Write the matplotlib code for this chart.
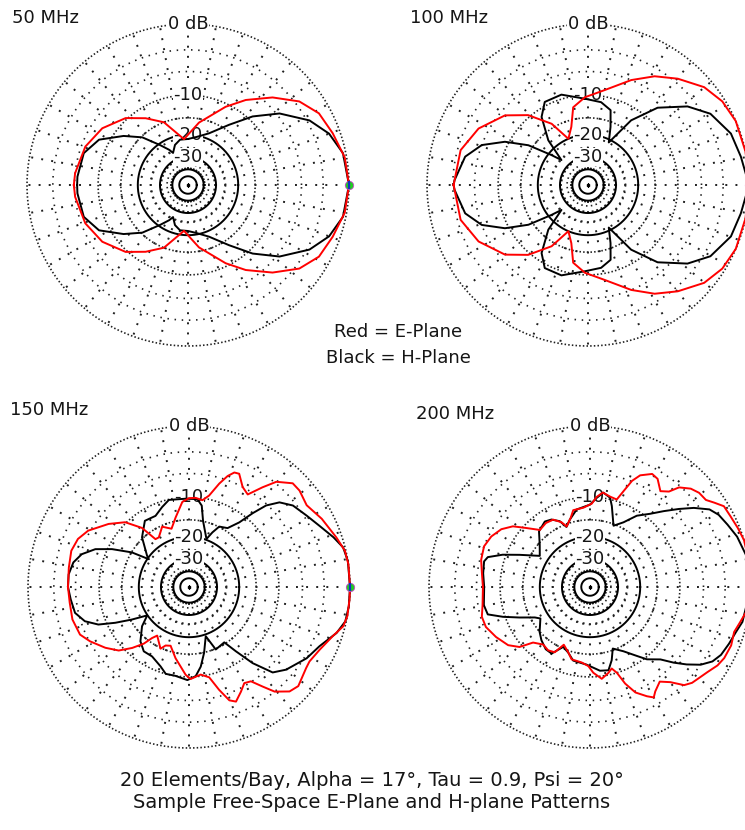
import numpy as np
import matplotlib
matplotlib.use("Agg")
import matplotlib.pyplot as plt

plt.rcParams['font.family'] = ['DejaVu Sans']

W, H = 745, 830

# ---- pattern data: azimuth angle (deg, 0 = forward, CCW positive) and relative gain (dB)
# 50 MHz
ang50_e = [-180, -174, -159.5, -146.5, -133, -122.4, -111, -95, -80, -64.3, -55.8, -46, -36.9, -28.7, -19.7, -10,
           0, 10, 19.7, 28.7, 36.9, 46, 55.8, 64.3, 80, 95, 111, 122.4, 133, 146.5, 159.5, 174, 180]
db50_e = [-5.9, -6.0, -6.6, -7.7, -9.7, -12.2, -15.0, -21.5, -16.0, -10.6, -7.7, -4.8, -2.5, -1.3, -0.8, -0.2,
          0.0, -0.2, -0.8, -1.3, -2.5, -4.8, -7.7, -10.6, -16.0, -21.5, -15.0, -12.2, -9.7, -7.7, -6.6, -6.0, -5.9]
ang50_h = [-180, -175.7, -163, -153, -142.7, -133.8, -125, -118, -115, -108, -100, -90, -80, -67.9, -55.7, -46.7,
           -38, -28, -20, -11.6, 0, 11.6, 20, 28, 38, 46.7, 55.7, 67.9, 80, 90, 100, 108, 115, 118, 125, 133.8,
           142.7, 153, 163, 175.7, 180]
db50_h = [-6.4, -6.4, -6.7, -8.2, -11.8, -15.3, -20.5, -24.0, -26.0, -23.0, -21.5, -21.5, -20.5, -18.2, -13.6,
          -9.2, -5.6, -2.7, -1.2, -0.3, 0.0, -0.3, -1.2, -2.7, -5.6, -9.2, -13.6, -18.2, -20.5, -21.5, -21.5,
          -23.0, -26.0, -24.0, -20.5, -15.3, -11.8, -8.2, -6.7, -6.4, -6.4]

# 100 MHz
ang100_e = [-180, -164.7, -152.7, -140, -130.6, -120.7, -113, -106, -100.8, -92, -80, -67.6, -58.5, -49.8, -40.1,
            -31.9, -23.4, -12, 0, 12, 23.4, 31.9, 40.1, 49.8, 58.5, 67.6, 80, 92, 100.8, 106, 113, 120.7, 130.6,
            140, 152.7, 164.7, 180]
db100_e = [-3.1, -3.4, -4.6, -6.8, -9.6, -14.0, -20.0, -16.8, -12.2, -10.4, -8.8, -6.0, -4.0, -2.5, -1.0,
           -0.3, 0.0, 0.0, 0.0, 0.0, 0.0, -0.3, -1.0, -2.5, -4.0, -6.0, -8.8, -10.4, -12.2, -16.8, -20.0, -14.0,
           -9.6, -6.8, -4.6, -3.4, -3.1]
ang100_h = [-180, -178, -167, -159.4, -152.5, -146.3, -140.7, -136.8, -131.6, -124.3, -117.5, -106.4, -92, -81,
            -73.2, -68.8, -64, -56.3, -48, -38.3, -30.2, -19.8, -10.5, 0, 10.5, 19.8, 30.2, 38.3, 48, 56.3, 64,
            68.8, 73.2, 81, 92, 106.4, 117.5, 124.3, 131.6, 136.8, 140.7, 146.3, 152.5, 159.4, 167, 178, 180]
db100_h = [-3.1, -3.2, -4.2, -6.0, -9.3, -13.9, -21.0, -25.5, -17.0, -11.5, -9.3, -9.2, -10.7, -11.2, -12.4,
           -16.3, -21.0, -12.5, -7.5, -4.1, -2.2, -1.0, -0.6, 0.0, -0.6, -1.0, -2.2, -4.1, -7.5, -12.5, -21.0,
           -16.3, -12.4, -11.2, -10.7, -9.2, -9.3, -11.5, -17.0, -25.5, -21.0, -13.9, -9.3, -6.0, -4.2, -3.2, -3.1]

# 150 MHz
ang150_e = [-180, -172.5, -164.4, -156.4, -151.2, -144, -137.9, -133, -128.6, -125.9, -123.2, -114.8, -111.8,
            -107.4, -100.7, -92.2, -89, -82.4, -77.4, -73.7, -70.4, -67.7, -63.6, -60.1, -56.7, -53.5, -50.7,
            -46.1, -42.2, -34.7, -31.7, -25.6, -18.9, -14.3, -10.4, -4.4,
            0, 8.1, 13.1, 18.6, 27.2, 34.8, 41.1, 45, 50.3, 53.6, 57.6, 61.8, 66.1, 68.4, 70.8, 73.7, 77.6,
            81.2, 85.7, 90, 94.5, 100.9, 106.7, 114, 121.3, 125, 128.5, 134.6, 141.9, 150.8, 156.6, 162.9,
            170.8, 180]
db150_e = [-4.9, -5.0, -4.9, -5.2, -6.1, -7.6, -9.1, -11.3, -13.7, -16.1, -17.5, -14.8, -16.1,
           -16.5, -13.7, -10.4, -9.6, -10.3, -9.5, -7.0, -5.0, -4.5, -5.5, -6.4, -6.1, -4.5, -3.0,
           -1.8, -1.5, -2.1, -2.2, -1.8, -1.0, -0.2, 0.0, 0.0,
           0.0, 0.0, -0.1, -0.6, -1.3, -2.0, -1.6, -1.6, -2.8, -4.5, -6.6, -6.0, -4.5, -4.6, -5.4, -6.9, -9.3,
           -10.4, -10.1, -10.2, -10.9, -14.1, -16.7, -15.3, -17.5, -17.4, -13.0, -9.8, -7.8, -5.7, -4.9, -4.6,
           -4.8, -4.9]
ang150_h = [-180, -174, -167.2, -161.8, -157.5, -154.1, -150.3, -145.8, -140.1, -131.8, -125.1, -118, -109.7,
            -105, -98.6, -91, -85.7, -81.6, -77.1, -71.2, -66.8, -57.5, -53.9, -50.1, -45.6, -40.4, -31.2,
            -24.4, -17.3, -12.4, -6.8,
            0, 9.3, 14.4, 19, 25.1, 31.3, 38.1, 43.1, 46.6, 49.2, 52.1, 56.8, 63.4, 66.8, 70, 78, 81.1, 84.6,
            92.2, 103, 108.6, 115.2, 123.7, 133.4, 143.3, 145.3, 148.8, 153.8, 158, 163, 168, 174, 180]
db150_h = [-4.9, -5.2, -5.5, -6.6, -8.5, -11.6, -15.4, -19.9, -16.6, -13.6, -12.3, -12.3, -11.1,
           -10.0, -10.0, -9.4, -10.1, -11.9, -14.9, -19.4, -14.8, -15.4, -12.1, -8.3, -5.1, -4.0, -2.7,
           -2.0, -0.7, -0.1, 0.0,
           0.0, 0.0, -0.2, -0.9, -1.9, -2.7, -3.4, -4.5, -6.2, -8.6, -11.6, -14.2, -14.9, -17.1, -19.7, -14.9,
           -11.5, -10.3, -10.3, -10.1, -11.1, -12.3, -12.1, -14.7, -19.3, -20.5, -15.1, -10.8, -8.0, -6.2,
           -5.3, -4.9, -4.9]

# 200 MHz
ang200_e = [-180, -170.4, -164.6, -159, -152, -144.6, -139.6, -135.7, -129.1, -123.5, -118.4, -114.4, -108.5,
            -104.3, -96.3, -91.2, -87.8, -82.7, -77.9, -75.1, -72.6, -70, -66.7, -62.5, -60, -58, -53.6,
            -49.8, -46.2, -43.2, -39.2, -36, -31.6, -27.9, -22.5, -17.3, -13.8, -9,
            0, 9, 16.9, 21.8, 26.7, 31.1, 34.2, 36.9, 40.8, 44.3, 48.2, 50.4, 53.7, 58, 61.2, 65.8, 68.4,
            70.7, 73, 77.4, 82.3, 85.7, 88.8, 94.8, 102.3, 105.7, 111.1, 113.8, 118.7, 124.6, 131.3, 137.2,
            141.8, 146.9, 152.9, 159, 166, 172.7, 180]
db200_e = [-7.0, -6.7, -6.2, -6.3, -7.1, -8.1, -9.5, -12.1, -13.3, -12.9, -13.3, -16.0, -14.6,
           -13.2, -12.9, -12.2, -10.8, -9.5, -10.4, -11.1, -10.0, -7.7, -5.8, -4.6, -4.0, -4.6, -5.4,
           -4.4, -2.9, -2.4, -2.1, -1.8, -1.25, -1.0, -0.9, -1.1, -0.8, -0.3,
           0.0, 0.0, 0.0, -0.2, -0.4, -0.5, -1.2, -1.8, -1.9, -2.3, -3.2, -4.5, -5.2, -4.0, -3.8, -4.7, -5.9,
           -7.9, -9.7, -9.5, -9.0, -9.9, -11.3, -12.1, -12.3, -13.9, -15.6, -14.1, -12.7, -12.5, -12.9, -10.6,
           -8.5, -7.2, -6.4, -6.0, -6.2, -6.7, -7.0]
ang200_h = [-180, -170.3, -165, -161.1, -156.6, -151.1, -147.6, -138.2, -132.4, -125.4, -120, -114.1, -108.3,
            -102.9, -92.5, -83.2, -77.5, -73.5, -69.7, -62.5, -55.8, -51.8, -45.8, -42.1, -38.7, -35.1, -31.3,
            -27.4, -22.2, -17.1, -12.9,
            0, 11.7, 18.9, 24.4, 29.3, 33, 37.3, 41.3, 45.8, 50.6, 56.7, 62.6, 69, 74.9, 77.3, 81.9, 85.7, 90,
            99.8, 106.6, 111.4, 114.7, 119.8, 124.6, 132.5, 140, 148.2, 155.4, 159.7, 163.7, 166.4, 172.7, 180]
db200_h = [-7.2, -6.9, -7.2, -9.6, -12.7, -16.1, -17.3, -14.9, -13.8, -12.8, -12.7, -15.4, -14.5,
           -13.0, -12.5, -11.1, -10.9, -12.8, -15.4, -13.7, -11.3, -9.6, -8.0, -6.1, -4.5, -3.0, -2.0,
           -1.5, -1.2, -0.9, -0.5,
           0.0, -0.2, -0.6, -1.1, -1.5, -2.1, -3.6, -5.3, -7.2, -9.1, -10.9, -13.6, -15.4, -11.2, -9.7, -9.0,
           -10.1, -11.5, -12.3, -14.2, -15.7, -13.7, -12.5, -12.1, -13.0, -15.4, -17.2, -12.6, -9.4, -7.1,
           -6.7, -6.9, -7.2]

panel_titles = ["50 MHz", "100 MHz", "150 MHz", "200 MHz"]
ring_labels = [(0, "0 dB"), (-10, "-10"), (-20, "-20"), (-30, "-30")]
legend_lines = ["Red = E-Plane", "Black = H-Plane"]
caption_lines = ["20 Elements/Bay, Alpha = 17\u00b0, Tau = 0.9, Psi = 20\u00b0",
                 "Sample Free-Space E-Plane and H-plane Patterns"]

patterns = [
    ((ang50_e, db50_e), (ang50_h, db50_h)),
    ((ang100_e, db100_e), (ang100_h, db100_h)),
    ((ang150_e, db150_e), (ang150_h, db150_h)),
    ((ang200_e, db200_e), (ang200_h, db200_h)),
]

# layout in pixels
centers = [(188, 185), (588, 185), (189, 587), (590, 587)]
title_pos = [(12, 18), (410, 18), (10, 410), (416, 414)]
R = 161


def arrl_radius(db):
    """ARRL log scale: each 2 dB step shrinks the radius by a factor 0.89."""
    return 0.89 ** (-np.asarray(db, dtype=float) / 2.0)


fig = plt.figure(figsize=(W / 100, H / 100), dpi=100)
fig.patch.set_facecolor("white")

dot_col = "#202020"
tt = np.linspace(0, 2 * np.pi, 1441)
text_col = "#151515"

for (cx, cy), (tx, ty), title, ((ae, de), (ah, dh)) in zip(centers, title_pos, panel_titles, patterns):
    ax = fig.add_axes([(cx - R) / W, 1 - (cy + R) / H, 2 * R / W, 2 * R / H], projection="polar")
    ax.set_theta_zero_location("E")
    ax.set_ylim(0, 1)
    ax.axis("off")

    # radial spokes (sparse dots)
    for a in np.arange(0, 360, 10):
        th = np.deg2rad(a)
        ax.plot([th, th], [arrl_radius(-40), 1.0], color=dot_col, lw=1.4,
                linestyle=(0, (1.0, 4.2)), clip_on=False, zorder=1)
    # dotted rings
    for lev, pattern in [(0, (0.9, 1.3)), (-3, (0.9, 3.4)), (-6, (0.9, 3.4)), (-10, (0.9, 1.3)),
                         (-15, (0.9, 1.3)), (-25, (0.9, 3.0)), (-35, (0.9, 2.0))]:
        ax.plot(tt, np.full_like(tt, arrl_radius(lev)), color=dot_col, lw=1.2,
                linestyle=(0, pattern), clip_on=False, zorder=1)
    # solid rings
    for lev in (-20, -30, -40, -50):
        ax.plot(tt, np.full_like(tt, arrl_radius(lev)), color="black", lw=1.4,
                clip_on=False, zorder=2)
    ax.plot([0], [0], "s", color="black", ms=1.8, zorder=2)

    for lev, txt in ring_labels:
        ax.text(np.pi / 2, arrl_radius(lev), txt, ha="center", va="center", fontsize=13,
                color=text_col, zorder=3,
                bbox=dict(facecolor="white", edgecolor="none", pad=0.2))

    ax.plot(np.deg2rad(ah), arrl_radius(dh), color="black", lw=1.4, clip_on=False, zorder=4)
    ax.plot(np.deg2rad(ae), arrl_radius(de), color="#ff0000", lw=1.4, clip_on=False, zorder=5)

    # reference marker at the forward direction
    ax.plot([0], [1.0], "o", color="#22cc22", ms=6, mec="#cc44cc", mew=0.6, clip_on=False, zorder=6)
    ax.plot([0], [1.0], "|", color="#1030c0", ms=6, mew=1.6, clip_on=False, zorder=7)

    fig.text(tx / W, 1 - ty / H, title, ha="left", va="center", fontsize=13, color=text_col)

fig.text(398 / W, 1 - 332 / H, legend_lines[0], ha="center", va="center", fontsize=13, color=text_col)
fig.text(398 / W, 1 - 358 / H, legend_lines[1], ha="center", va="center", fontsize=13, color=text_col)
fig.text(372 / W, 1 - 780 / H, caption_lines[0], ha="center", va="center", fontsize=14, color=text_col)
fig.text(372 / W, 1 - 802 / H, caption_lines[1], ha="center", va="center", fontsize=14, color=text_col)

fig.savefig("out.png", dpi=100, facecolor="white")
